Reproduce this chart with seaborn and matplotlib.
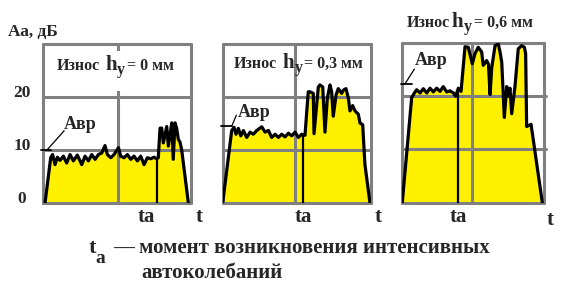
import matplotlib
matplotlib.use("Agg")
import numpy as np
import pandas as pd
import matplotlib.pyplot as plt
import seaborn as sns
from matplotlib.patches import Rectangle

sns.set_style("white")
plt.rcParams['font.family'] = ['Liberation Serif', 'DejaVu Serif']
plt.rcParams['font.weight'] = 'bold'

# ---------------- data (x: 0..100 across each panel, y: Aa, dB) ----------------
x_p1 = [1.6, 5.4, 6.7, 8.3, 9.9, 11.7, 14.0, 16.2, 18.5, 20.7, 23.4, 26.4, 28.6, 30.9,
        33.1, 35.4, 37.6, 39.9, 42.1, 43.7, 46.0, 48.2, 51.2, 52.7, 55.0, 57.2, 59.5,
        61.7, 64.0, 66.2, 68.5, 70.7, 73.0, 75.2, 77.0, 78.1, 79.3, 80.4, 81.5, 83.8,
        84.9, 87.2, 88.2, 89.4, 90.5, 91.6, 92.7, 93.9, 98.4]
y_p1 = [0.0, 8.5, 9.1, 7.2, 8.6, 8.0, 8.8, 7.5, 9.1, 7.9, 9.0, 7.2, 8.8, 7.9,
        9.1, 8.2, 9.1, 9.4, 10.8, 9.1, 8.5, 9.1, 10.4, 8.8, 8.5, 9.1, 8.2,
        8.8, 7.9, 8.8, 7.2, 8.5, 8.3, 8.6, 8.3, 8.5, 14.1, 14.1, 11.3, 14.4,
        10.7, 15.1, 8.2, 15.1, 14.1, 12.0, 11.5, 10.0, 0.0]

x_p2 = [0.0, 6.1, 7.7, 9.0, 10.6, 12.2, 14.0, 16.2, 18.5, 20.7, 23.0, 26.4, 28.6, 30.9,
        33.1, 35.4, 37.6, 39.9, 42.1, 44.4, 46.6, 48.9, 51.1, 53.4, 55.6, 57.8, 59.0,
        61.2, 61.7, 64.6, 65.7, 67.6, 69.1, 70.7, 72.5, 73.6, 74.7, 76.6, 78.1, 80.4,
        81.5, 83.3, 84.9, 86.0, 87.8, 89.4, 91.6, 92.8, 94.6, 96.1, 99.5]
y_p2 = [0.0, 13.6, 14.2, 12.9, 14.0, 12.6, 13.6, 12.3, 13.3, 12.9, 13.6, 14.3, 13.3, 13.6,
        12.3, 12.9, 12.3, 12.9, 12.4, 13.1, 12.6, 13.3, 12.3, 12.9, 12.7, 20.9, 20.9,
        20.6, 13.0, 21.8, 22.2, 21.8, 13.3, 19.7, 22.2, 20.9, 16.3, 20.3, 21.5, 20.6,
        21.2, 21.5, 19.7, 17.3, 18.3, 17.3, 16.7, 15.0, 14.7, 7.2, 0.0]

x_p3 = [0.4, 7.0, 8.9, 10.5, 12.9, 15.2, 17.6, 19.9, 22.2, 24.6, 26.9, 29.2, 31.6, 33.9,
        36.3, 37.9, 39.8, 41.7, 44.5, 46.8, 49.6, 51.5, 53.8, 56.2, 57.3, 59.7, 61.0,
        62.1, 63.2, 65.6, 67.9, 69.1, 70.3, 72.1, 73.8, 74.9, 76.1, 77.3, 79.6, 81.9,
        84.3, 86.2, 87.1, 87.8, 90.9, 98.8]
y_p3 = [0.0, 19.7, 20.6, 21.2, 20.6, 21.4, 20.6, 21.5, 20.8, 21.5, 20.9, 21.8, 20.8, 21.0,
        20.6, 20.0, 21.5, 20.9, 29.3, 29.2, 26.1, 28.0, 29.2, 28.3, 25.8, 26.7, 26.0,
        20.3, 25.2, 29.5, 29.8, 28.3, 26.4, 16.0, 21.8, 20.0, 21.5, 16.7, 21.8, 28.9,
        29.5, 29.2, 28.0, 14.3, 14.7, 0.0]

ta_pos = [77.0, 54.1, 39.4]          # onset of intensive self-oscillation
avr_level = [10.0, 14.4, 22.3]       # Авр level
wear = ["0", "0,3", "0,6"]          # wear h_y, mm
y_ticks = [0, 10, 20]
y_tick_labels = ["0", "10", "20"]

# ---------------- layout ----------------
W, H = 569, 290
fig = plt.figure(figsize=(W / 100, H / 100), dpi=100)
fig.patch.set_facecolor("white")

boxes = [(42.7, 44.0, 190.7, 202.7), (222.7, 43.5, 370.7, 202.7), (401.7, 43.0, 544.0, 202.5)]
mids = [51.0, 48.6, 49.6]
ta_label_x = [69.8, 54.6, 39.9]
t_label_x = [106.0, 105.3, 104.2]
t_label_y = [-3.6, -3.6, -4.2]
avr_geom = [  # (h_x0, h_x1, d_x0, d_x1, d_y1, text_x, text_y)
    (-1.0, 5.5, 3.0, 14.5, 13.6, 14.0, 14.0),
    (-1.4, 6.1, 6.1, 9.2, 16.5, 10.3, 16.2),
    (-0.5, 7.0, 2.3, 8.9, 25.1, 8.9, 25.8),
]
# title pieces in figure pixels: (x_Износ, x_h, x_y, x_eq, baseline, sub_baseline)
title_px = [(57, 105, 117, 127, 70, 74),
            (233.7, 282.5, 294.5, 304, 68.3, 72.3),
            (406.7, 451, 464, 473.5, 26.7, 30.7)]

GRAY = "#808080"
YELLOW = "#FFF000"
series = [(x_p1, y_p1), (x_p2, y_p2), (x_p3, y_p3)]


def ftext(x, y, s, size, **kw):
    return fig.text(x / W, 1 - y / H, s, fontsize=size, fontweight="bold", ha=kw.pop("ha", "left"),
                    va="baseline", zorder=5, **kw)


for i, ((l, t, r, b), (xs, ys)) in enumerate(zip(boxes, series)):
    ax = fig.add_axes([l / W, 1 - b / H, (r - l) / W, (b - t) / H])
    ax.set_xlim(0, 100)
    ax.set_ylim(0, 30)
    df = pd.DataFrame({"t": xs, "A": ys})
    ax.fill_between(df["t"], 0, df["A"], color=YELLOW, lw=0, zorder=0.5)
    # grid / frame
    for yv in [0, 10, 20, 30]:
        ax.axhline(yv, color=GRAY, lw=2.2, zorder=1, clip_on=False)
    for xv in [0, mids[i], 100]:
        ax.axvline(xv, color=GRAY, lw=2.2, zorder=1, clip_on=False)
    if i == 2:
        ax.plot([100, 101.5], [20, 20], color=GRAY, lw=2.2, clip_on=False, zorder=1)
        ax.plot([100, 101.5], [10, 10], color=GRAY, lw=2.2, clip_on=False, zorder=1)
    if i == 0:
        ax.add_patch(Rectangle((40, 21.2), 22, 7.5, facecolor="white", edgecolor="none", zorder=1.5))
    sns.lineplot(data=df, x="t", y="A", ax=ax, color="black", lw=2.3, estimator=None,
                 sort=False, zorder=3, legend=False)
    ax.axis("off")
    # ta line
    ta_top = np.interp(ta_pos[i], xs, ys)
    ax.plot([ta_pos[i], ta_pos[i]], [0, ta_top], color="black", lw=1.6, zorder=3,
            solid_capstyle="butt")
    # Авр marker
    hx0, hx1, dx0, dx1, dy1, tx, ty = avr_geom[i]
    ax.plot([hx0, hx1], [avr_level[i], avr_level[i]], color="black", lw=1.3, clip_on=False, zorder=3)
    ax.plot([dx0, dx1], [avr_level[i], dy1], color="black", lw=0.9, clip_on=False, zorder=3)
    ax.text(tx, ty, "Авр", fontsize=13, fontweight="bold", ha="left", va="baseline", zorder=4)
    # axis labels ta / t
    ax.text(ta_label_x[i], -3.6, "ta", fontsize=15, fontweight="bold", ha="center",
            va="baseline", clip_on=False)
    ax.text(t_label_x[i], t_label_y[i], "t", fontsize=15, fontweight="bold", ha="center",
            va="baseline", clip_on=False)
    # title: Износ h_y = ... мм
    xi, xh, xy_, xe, bl, sbl = title_px[i]
    ftext(xi, bl, "Износ", 11.5)
    ftext(xh, bl, "h", 15)
    ftext(xy_, sbl, "у", 11.5)
    ftext(xe, bl, "= " + wear[i] + " мм", 11.5)
    if i == 0:
        for v, lab in zip(y_ticks, y_tick_labels):
            ax.text(-14.0, v, lab, fontsize=12.5, fontweight="bold", ha="center",
                    va="baseline", clip_on=False)

ftext(8, 36, "Аа, дБ", 12.5)
ftext(88.5, 253.3, "t", 16)
ftext(95.5, 263.0, "a", 14)
ftext(113, 253.3, "— момент возникновения интенсивных", 15)
ftext(141, 278.3, "автоколебаний", 15)

fig.savefig("out.png", dpi=100, facecolor="white")
